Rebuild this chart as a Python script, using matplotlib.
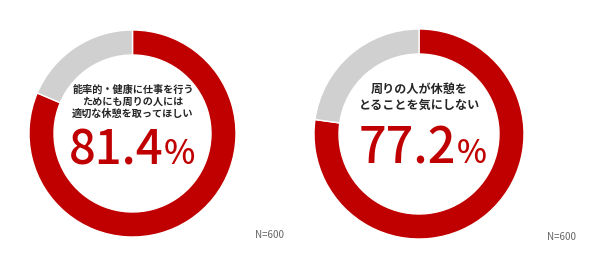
import matplotlib
matplotlib.use("Agg")
import matplotlib.pyplot as plt

plt.rcParams['font.family'] = ['Noto Sans CJK JP', 'DejaVu Sans']

# Data
labels = ["能率的・健康に仕事を行う\nためにも周りの人には\n適切な休憩を取ってほしい",
          "周りの人が休憩を\nとることを気にしない"]
yes_values = [81.4, 77.2]
pct_text = ["81.4", "77.2"]
n_label = "N=600"

RED = "#c00000"
GRAY = "#d0d0d0"

W, H = 590, 263
fig = plt.figure(figsize=(W / 100, H / 100), dpi=100)
ax = fig.add_axes([0, 0, 1, 1])

centers = [(132.5, H - 133.5), (419, H - 134)]
radii = [103.5, 105]
ring = 25

for i, v in enumerate(yes_values):
    ax.pie([v, 100 - v], colors=[RED, GRAY], startangle=90, counterclock=False,
           center=centers[i], radius=radii[i], frame=True,
           wedgeprops=dict(width=ring, edgecolor='white', linewidth=1))

ax.set_xlim(0, W)
ax.set_ylim(0, H)
ax.set_aspect('equal')
ax.axis('off')

# Left labels
cx, cy = centers[0]
ax.text(cx + 0.5, H - 102, labels[0], ha='center', va='center', fontsize=7.3,
        fontweight='bold', color='#262626', linespacing=1.25)
ax.text(cx + 31, H - 151, pct_text[0], ha='right', va='center', fontsize=34,
        fontweight='medium', color=RED)
ax.text(cx + 31, H - 155, "%", ha='left', va='center', fontsize=24,
        fontweight='medium', color=RED)

cx, cy = centers[1]
ax.text(cx + 0.5, H - 97.5, labels[1], ha='center', va='center', fontsize=8.7,
        fontweight='bold', color='#262626', linespacing=1.25)
ax.text(cx + 37, H - 150, pct_text[1], ha='right', va='center', fontsize=35,
        fontweight='medium', color=RED)
ax.text(cx + 38, H - 154, "%", ha='left', va='center', fontsize=23,
        fontweight='medium', color=RED)

ax.text(270, H - 235, n_label, ha='center', va='center', fontsize=7, color='#666666')
ax.text(562, H - 237, n_label, ha='center', va='center', fontsize=7, color='#666666')

fig.savefig("out.png", dpi=100, facecolor='white')
